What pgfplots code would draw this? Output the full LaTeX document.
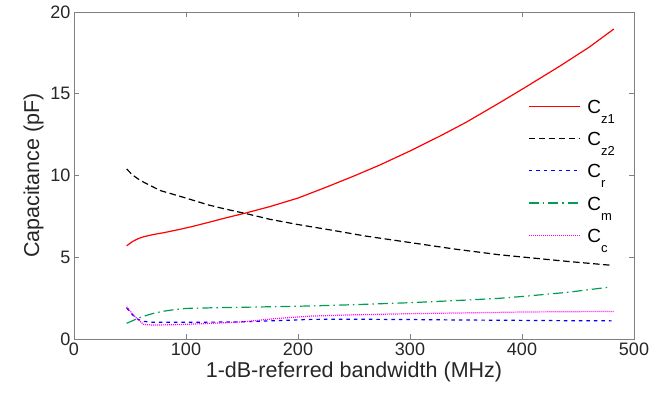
\documentclass[border=0pt]{standalone}
\usepackage{fontspec}
\setmainfont{Liberation Sans}
\usepackage{pgfplots}
\pgfplotsset{compat=1.18}
\definecolor{mgreen}{rgb}{0,0.62,0.33}
\definecolor{mred}{rgb}{1,0,0}
\definecolor{mblue}{rgb}{0,0,1}
\definecolor{mmag}{rgb}{1,0,1}
\definecolor{mblack}{rgb}{0,0,0}
\definecolor{axgray}{gray}{0.5}
\definecolor{txt}{gray}{0.15}
\newcommand\sub[1]{\raisebox{-10pt}{\fontsize{13}{13}\selectfont #1}}
\begin{document}
\begin{tikzpicture}
\begin{axis}[
  name=ax,
  scale only axis, width=560pt, height=327pt,
  xmin=0, xmax=500, ymin=0, ymax=20,
  xtick={0,100,...,500}, ytick={0,5,...,20},
  tick align=inside, major tick length=5pt,
  axis line style={axgray, line width=0.6pt},
  every tick/.style={axgray, line width=0.6pt},
  tick label style={font=\fontsize{18}{18}\selectfont, text=txt},
  /pgf/number format/assume math mode=true,
  label style={font=\fontsize{21.5}{22}\selectfont, text=txt},
  xlabel={1-dB-referred bandwidth (MHz)},
  ylabel={Capacitance (pF)},
  legend style={draw=none, fill=none, inner sep=0pt, at={(rel axis cs:0.8107,0.762)}, anchor=north west,
    font=\fontsize{19}{19}\selectfont, row sep=0pt, column sep=7pt,
    nodes={inner sep=0pt, text height=23.15pt, text depth=9.15pt}},
  legend cell align=left,
  legend image code/.code={\draw[#1] (0pt,0pt) -- (51pt,0pt);},
]
\addplot[color=mred, line width=1.2pt] table {
47 5.70
52 5.95
57 6.13
62 6.25
70 6.38
80 6.50
92 6.67
105 6.87
120 7.13
135 7.40
153 7.70
175 8.10
200 8.62
225 9.28
250 9.97
273 10.64
300 11.50
327 12.42
350 13.25
380 14.45
400 15.27
434 16.70
460 17.85
482 18.96
};
\addlegendentry{C\sub{z1}}
\addplot[color=mblack, line width=1.2pt, dash pattern=on 6.5pt off 3.5pt] table {
47 10.40
52 10.05
57 9.80
62 9.60
70 9.32
77 9.08
90 8.82
100 8.62
120 8.20
135 7.95
153 7.68
175 7.32
200 7.00
229 6.67
260 6.30
300 5.90
340 5.50
380 5.15
407 4.97
440 4.75
481 4.50
};
\addlegendentry{C\sub{z2}}
\addplot[color=mblue, line width=1.2pt, dash pattern=on 3.5pt off 4pt] table {
47 1.90
52 1.50
57 1.20
62 1.08
70 1.02
92 1.02
120 1.03
151 1.05
180 1.12
211 1.20
250 1.21
300 1.19
350 1.16
400 1.14
440 1.12
480 1.11
};
\addlegendentry{C\sub{r}}
\addplot[color=mgreen, line width=1.2pt, dash pattern=on 10pt off 4pt on 1.5pt off 4pt] table {
47 0.96
55 1.20
60 1.35
71 1.57
80 1.70
90 1.80
100 1.87
130 1.92
150 1.94
181 1.98
211 2.02
250 2.10
300 2.22
350 2.38
380 2.49
400 2.60
440 2.85
479 3.18
};
\addlegendentry{C\sub{m}}
\addplot[color=mmag, line width=1.2pt, dash pattern=on 1pt off 1pt] table {
47 1.97
52 1.55
57 1.20
62 0.90
70 0.85
92 0.88
120 0.95
151 1.05
180 1.25
211 1.40
250 1.48
300 1.55
350 1.60
400 1.65
440 1.67
482 1.68
};
\addlegendentry{C\sub{c}}
\end{axis}
\path (ax.south west) ++(-74pt,-66pt) rectangle ++(669pt,405pt);
\end{tikzpicture}
\end{document}
